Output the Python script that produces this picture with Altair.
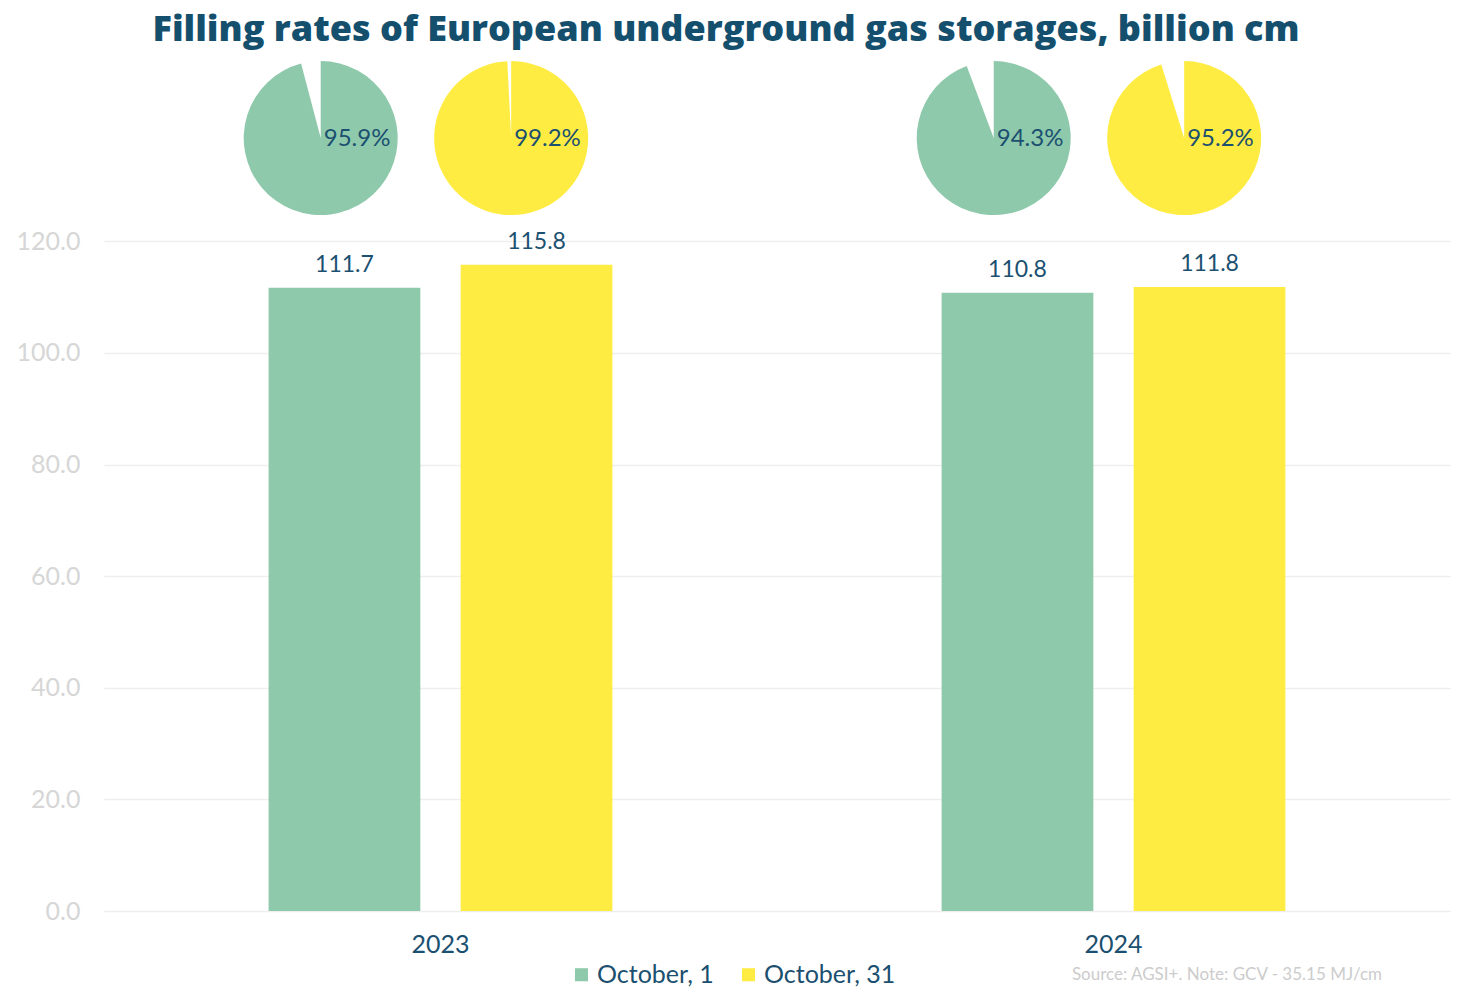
import altair as alt
import pandas as pd

# ---- data ----
years = ["2023", "2024"]
series = ["October, 1", "October, 31"]
volume_oct1 = [111.7, 110.8]
volume_oct31 = [115.8, 111.8]
fill_oct1 = [95.9, 94.3]
fill_oct31 = [99.2, 95.2]
colors = ["#8FC9AC", "#FFEC42"]
title_text = "Filling rates of European underground gas storages, billion cm"
source_text = "Source: AGSI+. Note: GCV - 35.15 MJ/cm"
y_ticks = [0, 20, 40, 60, 80, 100, 120]

rows = []
for s, vols, fills in [(series[0], volume_oct1, fill_oct1), (series[1], volume_oct31, fill_oct31)]:
    for i, yr in enumerate(years):
        rows.append({"year": yr, "series": s, "value": vols[i], "pct": fills[i], "start": 0})
df = pd.DataFrame(rows)

TEAL = "#1B5070"
FONT = "Lato"

y_scale = alt.Scale(domain=[0, 155], nice=False, zero=True)
y_axis = alt.Axis(values=y_ticks, format=".1f", title=None, labelFontSize=25,
                  labelColor="#d6d6d6", labelPadding=24, domain=False, ticks=False,
                  gridColor="#eeeeee", gridWidth=1.5, labelFont=FONT)
x_scale = alt.Scale(paddingInner=0, paddingOuter=0)
x_axis = alt.Axis(title=None, labelAngle=0, labelFontSize=25, labelColor=TEAL,
                  labelPadding=21, domain=False, ticks=False, grid=False, labelFont=FONT)

x_enc = alt.X("year:N", scale=x_scale, axis=x_axis)
xoff_bar = alt.XOffset("series:N", scale=alt.Scale(domain=series, paddingInner=0.21, paddingOuter=0.857))
color_enc = alt.Color("series:N", scale=alt.Scale(domain=series, range=colors),
                      legend=alt.Legend(title=None, orient="none", legendX=465, legendY=916,
                                        direction="horizontal", symbolType="square",
                                        symbolSize=170, symbolStrokeWidth=0, labelFontSize=25,
                                        labelColor=TEAL, labelFont=FONT, labelOffset=3,
                                        columnPadding=22))

base = alt.Chart(df)

bars = base.mark_bar().encode(
    x=x_enc, xOffset=xoff_bar,
    y=alt.Y("value:Q", scale=y_scale, axis=y_axis),
    color=color_enc,
)

bar_labels = base.mark_text(baseline="alphabetic", dy=-16, fontSize=23, color=TEAL, font=FONT).encode(
    x=x_enc, xOffset=xoff_bar,
    y=alt.Y("value:Q", scale=y_scale, axis=y_axis),
    text=alt.Text("value:Q", format=".1f"),
)

# pies sit a little left of their bars: position inside each year's band
pie_band_pos = {series[0]: 0.322, series[1]: 0.605}


def pie_layers(s):
    sub = base.transform_filter(alt.datum.series == s)
    xpos = alt.X("year:N", scale=x_scale, axis=x_axis, bandPosition=pie_band_pos[s])
    ypos = alt.Y(datum=138.5, scale=y_scale, axis=y_axis)
    arc = sub.mark_arc(radius=77).encode(
        x=xpos, y=ypos,
        theta=alt.Theta("start:Q", scale=alt.Scale(domain=[0, 100])),
        theta2="pct:Q",
        color=color_enc,
    )
    lab = sub.transform_calculate(
        label="format(datum.pct, '.1f') + '%'"
    ).mark_text(align="left", baseline="middle", dx=3, dy=1, fontSize=24, color=TEAL, font=FONT).encode(
        x=xpos, y=ypos, text="label:N",
    )
    return [arc, lab]


source = alt.Chart(pd.DataFrame({"t": [source_text]})).mark_text(
    align="right", baseline="middle", fontSize=17, color="#cccccc", font=FONT
).encode(x=alt.value(1278), y=alt.value(929), text="t:N")

chart = alt.layer(
    bars, bar_labels, *pie_layers(series[0]), *pie_layers(series[1]), source
).properties(
    width=1346,
    height=865,
    title=alt.Title(title_text, fontSize=36, fontWeight=800, color="#14506E", font="Open Sans",
                    anchor="middle", dx=-51, offset=0, dy=3),
    autosize=alt.AutoSizeParams(type="none"),
    padding={"left": 96, "top": 38, "right": 20, "bottom": 80},
).configure_view(stroke=None)

chart.save("out.html", embed_options={"renderer": "svg", "actions": False})
